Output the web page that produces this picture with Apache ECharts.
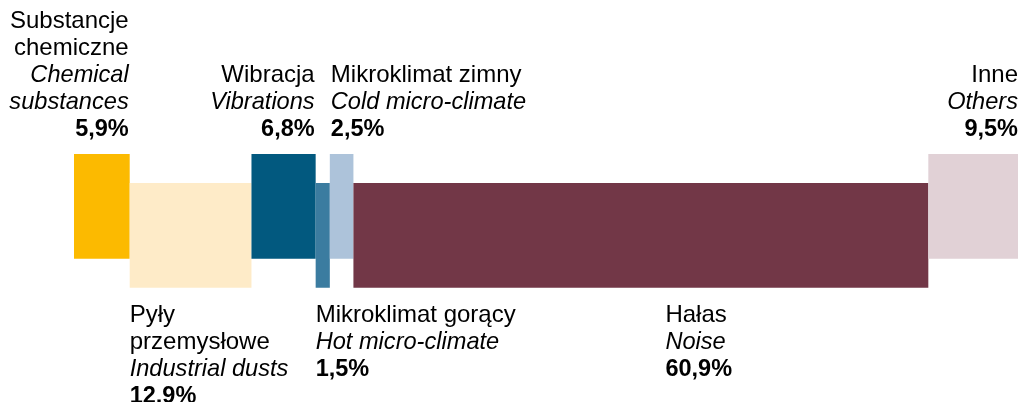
<!DOCTYPE html>
<html>
<head>
<meta charset="utf-8">
<script src="https://cdn.jsdelivr.net/npm/echarts@6/dist/echarts.min.js"></script>
<style>
  html, body { margin: 0; padding: 0; background: #fff; }
  #chart { width: 1020px; height: 402px; }
</style>
</head>
<body>
<div id="chart"></div>
<script>
// dane
const namesPl = [['Substancje', 'chemiczne'], ['Pyły', 'przemysłowe'], ['Wibracja'], ['Mikroklimat gorący'], ['Mikroklimat zimny'], ['Hałas'], ['Inne']];
const namesEn = [['Chemical', 'substances'], ['Industrial dusts'], ['Vibrations'], ['Hot micro-climate'], ['Cold micro-climate'], ['Noise'], ['Others']];
const shares = [5.9, 12.9, 6.8, 1.5, 2.5, 60.9, 9.5];

// wygląd
const colors = ['#fcba00', '#feebc8', '#02597f', '#3b7ca0', '#adc3da', '#723747', '#e1d1d6'];
const placement = [
  { side: 'top', align: 'right', dx: -1 },
  { side: 'bottom', align: 'left', dx: 0 },
  { side: 'top', align: 'right', dx: -1 },
  { side: 'bottom', align: 'left', dx: 0 },
  { side: 'top', align: 'left', dx: 1 },
  { side: 'bottom', align: 'left', dx: 312 },
  { side: 'top', align: 'right', dx: 0 }
];

let acc = 0;
const data = shares.map((v, i) => {
  const start = acc;
  acc += v;
  return [start, acc, i];
});

const chart = echarts.init(document.getElementById('chart'));

function renderItem(params, api) {
  const i = api.value(2);
  const cs = params.coordSys;
  const barH = cs.height * 0.783;
  const x0 = api.coord([api.value(0), 0])[0];
  const x1 = api.coord([api.value(1), 0])[0];
  const p = placement[i];
  const y0 = p.side === 'top' ? cs.y : cs.y + cs.height - barH;

  const font = { fontFamily: 'Liberation Sans, Arial, sans-serif', fontSize: 24, lineHeight: 27, fill: '#000', align: p.align };
  const lines = [];
  namesPl[i].forEach(t => lines.push('{n|' + t + '}'));
  namesEn[i].forEach(t => lines.push('{e|' + t + '}'));
  lines.push('{v|' + shares[i].toFixed(1).replace('.', ',') + '%}');

  const tx = p.align === 'right' ? x1 + p.dx : x0 + p.dx;
  const ty = p.side === 'top' ? y0 - 11 : y0 + barH + 14;

  return {
    type: 'group',
    children: [
      {
        type: 'rect',
        shape: { x: x0, y: y0, width: x1 - x0, height: barH },
        style: { fill: colors[i] }
      },
      {
        type: 'text',
        style: {
          text: lines.join('\n'),
          x: tx,
          y: ty,
          align: p.align,
          verticalAlign: p.side === 'top' ? 'bottom' : 'top',
          fill: '#000',
          rich: {
            n: { ...font },
            e: { ...font, fontSize: 23.6, fontStyle: 'italic' },
            v: { ...font, fontSize: 23.5, fontWeight: 'bold' }
          }
        }
      }
    ]
  };
}

chart.setOption({
  animation: false,
  grid: { left: 74, right: 2, top: 154, bottom: 114.3 },
  xAxis: { type: 'value', min: 0, max: 100, show: false },
  yAxis: { type: 'value', min: 0, max: 1, show: false },
  series: [
    {
      type: 'custom',
      renderItem: renderItem,
      data: data,
      clip: false,
      silent: true
    }
  ]
});
</script>
</body>
</html>
